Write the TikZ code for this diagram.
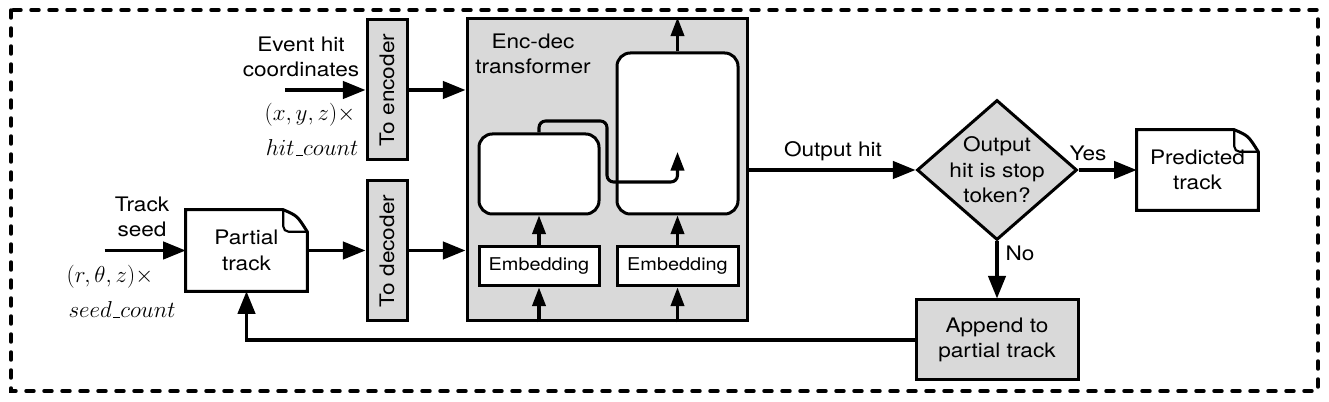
\documentclass[tikz,border=0pt]{standalone}
\usepackage{fontspec}
\setmainfont{TeX Gyre Heros}[FakeStretch=1.13]
\usetikzlibrary{arrows.meta,shapes.geometric,calc}
\definecolor{boxgray}{HTML}{D9D9D9}
\newcommand\myusc{\mbox{\kern.06em\vbox{\hrule height 0.9pt width.3em}}}
\newcommand\mydocshape[1]{%
  \draw[line width=2.25pt, line join=miter, fill=white]
    (#1.south west) -- (#1.north west) -- ($(#1.north east)+(-24,0)$)
    .. controls ($(#1.north east)+(-10,6)$) .. ($(#1.north east)+(0,22)$)
    -- (#1.south east) -- cycle;
  \draw[line width=1.6pt, rounded corners=4pt]
    ($(#1.north east)+(-24,0)$) |- ($(#1.north east)+(0,22)$);
}
\begin{document}
\begin{tikzpicture}[x=0.75pt,y=-0.75pt,
  every node/.style={font=\fontsize{15}{19}\selectfont},
  mathtxt/.style={font=\fontsize{18}{21}\selectfont},
  box/.style={draw, line width=2.25pt, inner sep=0pt, align=center},
  graybox/.style={box, fill=boxgray},
  wbox/.style={box, fill=white},
  rbox/.style={box, fill=white, rounded corners=10pt},
  docnode/.style={inner sep=0pt, align=center},
  arr/.style={line width=2.6pt, -{Triangle[length=17pt,width=13pt]}},
  sarr/.style={line width=2.3pt, -{Triangle[length=14pt,width=10pt]}},
  frame/.style={line width=2.6pt, dash pattern=on 6pt off 7.5pt, line cap=round}
]
\useasboundingbox (0,0) rectangle (1329,402);
\draw[frame] (11,10) rectangle (1318,391);

% inputs
\node[align=center] (evt) at (301,57) {Event hit\\coordinates};
\node[mathtxt] (xyz) at (310,115) {$(x,y,z)\times$};
\node[mathtxt] (hc) at (312,148) {$hit\myusc count$};
\node[align=center] (trk) at (142,217) {Track\\seed};
\node[mathtxt] (rtz) at (110,277) {$(r,\theta,z)\times$};
\node[mathtxt] (sc) at (122,310) {$seed\myusc count$};

% partial track
\node[docnode, minimum width=90.75pt, minimum height=60.75pt] (ptrack) at (246.5,250.5) {};
\mydocshape{ptrack}
\node[align=center] (ptracktxt) at (ptrack.center) {Partial\\track};

% to encoder / decoder
\node[graybox, minimum width=30pt, minimum height=105pt] (enc) at (387,90) {\rotatebox{90}{To encoder}};
\node[graybox, minimum width=30pt, minimum height=105pt] (dec) at (387,251) {\rotatebox{90}{To decoder}};

% transformer
\node[graybox, minimum width=210pt, minimum height=226.5pt] (tf) at (607,170) {};
\node[align=center] (tflabel) at (533,54) {Enc-dec\\transformer};
\node[rbox, minimum width=90pt, minimum height=60pt] (encb) at (539,174) {};
\node[rbox, minimum width=90.75pt, minimum height=120.75pt] (decb) at (677.5,133.5) {};
\node[wbox, minimum width=90pt, minimum height=29.25pt, font=\fontsize{13.2}{15}\selectfont] (emb1) at (539,266.5) {Embedding};
\node[wbox, minimum width=90.75pt, minimum height=29.25pt, font=\fontsize{13.2}{15}\selectfont] (emb2) at (677.5,266.5) {Embedding};
\coordinate (xa) at (607,121);
\coordinate (xtip) at (677.5,152);

% decision
\node[diamond, draw, fill=boxgray, line width=2.25pt, minimum width=120pt, minimum height=105pt, inner sep=0pt] (dia) at (997,170) {};
\node[align=center] (diatxt) at (997,170) {Output\\hit is stop\\token?};
\node[docnode, minimum width=90.75pt, minimum height=60pt] (pred) at (1197.5,170) {};
\mydocshape{pred}
\node[align=center] (predtxt) at (pred.center) {Predicted\\track};
\node[graybox, minimum width=121.5pt, minimum height=60pt] (app) at (997,340) {Append to\\partial track};

% labels
\node (lblout) at (833,151) {Output hit};
\node (lblyes) at (1088,153) {Yes};
\node (lblno) at (1020,253) {No};

% connectors
\coordinate (hitin) at (285,90);
\coordinate (seedin) at ($(ptrack.west)+(-81,0)$);
\draw[arr] (hitin) -- (hitin -| enc.west);
\draw[arr] (enc.east) -- (enc.east -| tf.west);
\draw[arr] (seedin) -- (ptrack.west);
\draw[arr] (ptrack.east) -- (ptrack.east -| dec.west);
\draw[arr] (dec.east |- ptrack.east) -- (tf.west |- ptrack.east);

\draw[sarr] (emb1.south |- tf.south) -- (emb1.south);
\draw[sarr] (emb2.south |- tf.south) -- (emb2.south);
\draw[sarr] (emb1.north) -- (encb.south);
\draw[sarr] (emb2.north) -- (decb.south);
\draw[sarr] (decb.north) -- (decb.north |- tf.north);
\draw[sarr, rounded corners=5pt] (encb.north) |- (xa) |- ($(xtip)+(0,30)$) -- (xtip);

\draw[arr] (tf.east) -- (dia.west);
\draw[arr] (dia.east) -- (pred.west);
\draw[arr] (dia.south) -- (app.north);
\draw[arr] (app.west) -| (ptrack.south);
\end{tikzpicture}
\end{document}
